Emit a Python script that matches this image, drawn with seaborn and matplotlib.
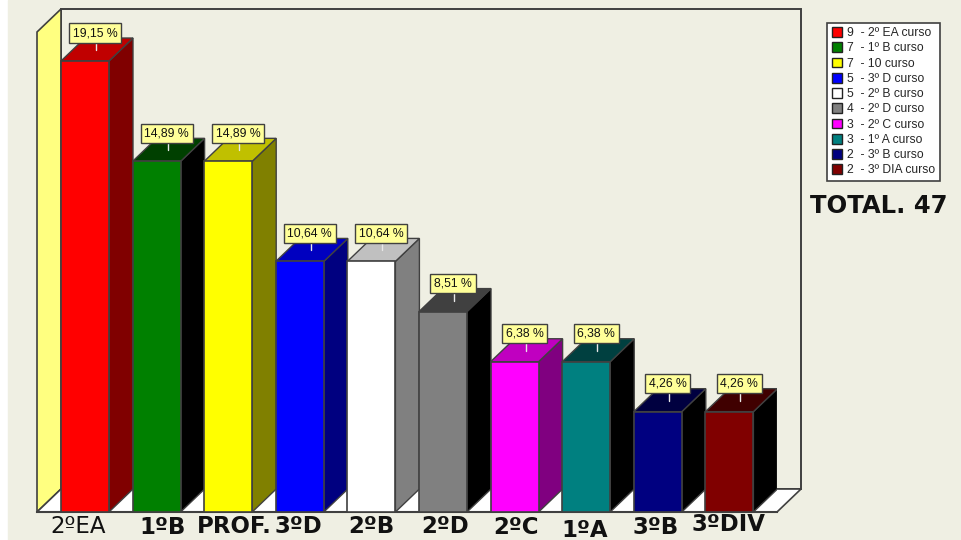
import matplotlib
matplotlib.use("Agg")
import matplotlib.pyplot as plt
import pandas as pd
import seaborn as sns
from matplotlib.patches import Patch, Polygon, Rectangle
from matplotlib.transforms import ScaledTranslation

categories = ["2ºEA", "1ºB", "PROF.", "3ºD", "2ºB", "2ºD", "2ºC", "1ºA", "3ºB", "3ºDIV"]
percent = [19.15, 14.89, 14.89, 10.64, 10.64, 8.51, 6.38, 6.38, 4.26, 4.26]
percent_labels = ["19,15 %", "14,89 %", "14,89 %", "10,64 %", "10,64 %", "8,51 %", "6,38 %", "6,38 %", "4,26 %", "4,26 %"]
legend_labels = [
    "9  - 2º EA curso", "7  - 1º B curso", "7  - 10 curso", "5  - 3º D curso", "5  - 2º B curso",
    "4  - 2º D curso", "3  - 2º C curso", "3  - 1º A curso", "2  - 3º B curso", "2  - 3º DIA curso",
]
front_colors = ["#ff0000", "#008000", "#ffff00", "#0000ff", "#ffffff", "#808080", "#ff00ff", "#008080", "#000080", "#800000"]
side_colors = ["#800000", "#000000", "#808000", "#000080", "#808080", "#000000", "#800080", "#000000", "#000000", "#000000"]
top_colors = ["#c00000", "#004000", "#c0c000", "#0000c0", "#c0c0c0", "#404040", "#c000c0", "#004040", "#000040", "#400000"]

BG = "#efefe3"
EDGE = "#404040"
W, H = 962, 540
STEP = 71.6  # px per category
SCALE = 23.55  # px per percent
DEPTH = 24  # 3d depth, px


def label_offsets():
    # hand placed labels in the original, px from the tick
    return [(-7, 0), (5.5, -1), (6, 0), (-1, 0), (0, 0), (2, 0), (1.5, -1), (-2, -4), (-2, -1), (-1, 2)]


sns.set_theme(style="white")
plt.rcParams["font.family"] = ["DejaVu Sans"]

df = pd.DataFrame({"cat": categories, "pct": percent})

fig = plt.figure(figsize=(W / 100, H / 100), dpi=100, facecolor="white")
fig.patches.append(Rectangle((8 / W, 0), 1, 1, transform=fig.transFigure, color=BG, zorder=-5))

left, right, top, bottom = 37, 777, 9, 512
ax = fig.add_axes([left / W, 1 - bottom / H, (right - left) / W, (bottom - top) / H])
ax.patch.set_alpha(0)

sns.barplot(
    df, x="cat", y="pct", hue="cat", palette=front_colors, width=48 / STEP,
    saturation=1, legend=False, edgecolor=EDGE, linewidth=1.2, ax=ax, zorder=4,
)
ax.set_xlim((left - 85) / STEP, (right - 85) / STEP)
ax.set_ylim(0, (bottom - top) / SCALE)
ax.set(xlabel="", ylabel="", yticks=[])
sns.despine(ax=ax, left=True, right=True, top=True)
ax.spines["bottom"].set_color(EDGE)
ax.spines["bottom"].set_linewidth(1.5)

dx, dy = DEPTH / STEP, 23 / SCALE
x0, x1 = ax.get_xlim()
ymax = ax.get_ylim()[1]

# walls and floor
ax.add_patch(Polygon([(x0 + dx, dy), (x1 + dx, dy), (x1 + dx, ymax), (x0 + dx, ymax)], fc=BG, ec=EDGE, lw=1.4, clip_on=False, zorder=0))
ax.add_patch(Polygon([(x0, 0), (x0 + dx, dy), (x0 + dx, ymax), (x0, ymax - dy)], fc="#ffff80", ec=EDGE, lw=1.2, clip_on=False, zorder=1))
ax.add_patch(Polygon([(x0, 0), (x1, 0), (x1 + dx, dy), (x0 + dx, dy)], fc="white", ec=EDGE, lw=1.2, clip_on=False, zorder=1))

# 3d faces and value flags
for bar, side, roof, text in zip(ax.patches[: len(categories)], side_colors, top_colors, percent_labels):
    xa, xb = bar.get_x(), bar.get_x() + bar.get_width()
    h = bar.get_height()
    ax.add_patch(Polygon([(xb, 0), (xb + dx, dy), (xb + dx, h + dy), (xb, h)], fc=side, ec=EDGE, lw=1.0, zorder=3))
    ax.add_patch(Polygon([(xa, h), (xb, h), (xb + dx, h + dy), (xa + dx, h + dy)], fc=roof, ec=EDGE, lw=1.0, zorder=3))
    xc = (xa + xb) / 2 + 11 / STEP
    ax.plot([xc, xc], [h + 11 / SCALE, h + 20 / SCALE], color="#e8e8e8", lw=1, zorder=5)
    ax.annotate(
        text, (xc, h), xytext=(-0.7, 28 * 0.72), textcoords="offset points", ha="center", va="center",
        fontsize=8.8, family="Liberation Sans", color="#111111", zorder=6, annotation_clip=False,
        bbox=dict(boxstyle="square,pad=0.3", fc="#ffff99", ec=EDGE, lw=1.0),
    )

# category labels
ax.set_xticks(range(len(categories)))
ax.set_xticklabels(categories)
ax.tick_params(axis="x", length=0, pad=2.5)
for i, (tick, off) in enumerate(zip(ax.get_xticklabels(), label_offsets())):
    tick.set_fontsize(16.5)
    tick.set_fontweight("normal" if i == 0 else "bold")
    tick.set_color("#111111")
    tick.set_transform(tick.get_transform() + ScaledTranslation(off[0] / 100, off[1] / 100, fig.dpi_scale_trans))

handles = [Patch(fc=c, ec="#222222", lw=1) for c in front_colors]
leg = fig.legend(
    handles, legend_labels, loc="upper left", bbox_to_anchor=(827 / W, 1 - 22.5 / H), bbox_transform=fig.transFigure,
    ncol=1, frameon=True, fancybox=False, framealpha=1, facecolor="white", edgecolor=EDGE,
    borderpad=0.38, labelspacing=0.27, handlelength=0.9, handleheight=0.85, handletextpad=0.4, borderaxespad=0,
    prop={"family": "Liberation Sans", "size": 8.7},
)
leg.get_frame().set_linewidth(1.2)

fig.text(879 / W, 1 - 206 / H, "TOTAL. 47", ha="center", va="center", fontsize=17.5, fontweight="bold", color="#111111")

fig.savefig("out.png", dpi=100, facecolor=fig.get_facecolor())
